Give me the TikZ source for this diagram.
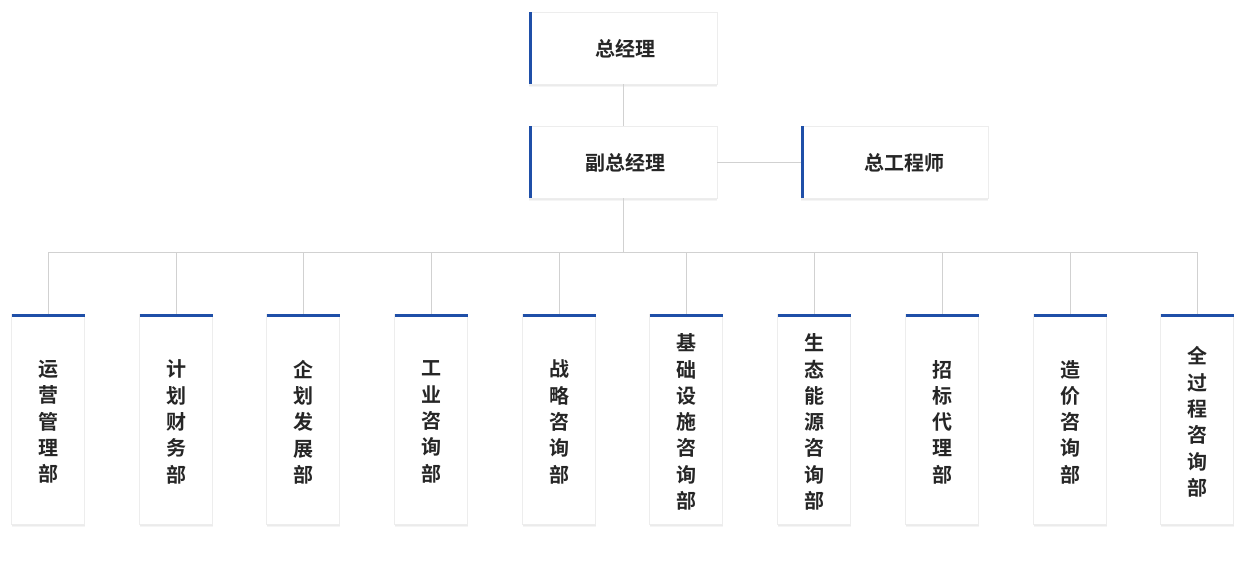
\documentclass[tikz,border=0pt]{standalone}
\usepackage{fontspec}
\newfontfamily\cjk{Noto Sans CJK SC Bold}
\usetikzlibrary{shadows}
\begin{document}
\begin{tikzpicture}[x=1pt,y=-1pt,
  box/.style={fill=white,draw=black!7,line width=0.6pt,
    preaction={fill=black,opacity=0.04,transform canvas={yshift=-3pt}},
    preaction={fill=black,opacity=0.04,transform canvas={yshift=-1.5pt}}},
  line/.style={draw=black!18,line width=0.8pt},
  ttl/.style={font=\cjk\fontsize{20}{22}\selectfont,text=black!85},
  vtl/.style={font=\cjk\fontsize{20}{26.3}\selectfont,text=black!85,align=center,anchor=center}]
\definecolor{bl}{HTML}{1F4FA8}
\useasboundingbox (0,0) rectangle (1247,560);
\path[box] (529,12) rectangle (717,84);
\fill[bl] (529,12) rectangle (532,84);
\node[ttl] (gm) at (625,49) {总经理};
\path[box] (529,126) rectangle (717,198);
\fill[bl] (529,126) rectangle (532,198);
\node[ttl] (dgm) at (625,163) {副总经理};
\path[box] (801,126) rectangle (988,198);
\fill[bl] (801,126) rectangle (804,198);
\node[ttl] (ce) at (904,163) {总工程师};
\coordinate (t1) at (623,84);
\coordinate (t2) at (623,126);
\coordinate (t3) at (623,198);
\coordinate (h) at (623,252);
\draw[line] (t1) -- (t2);
\draw[line] (t3) -- (h);
\draw[line] (717,162) -- (801,162);
\draw[line] (48,252) -- (1197,252);
\foreach \x/\t [count=\i] in {48/运\\营\\管\\理\\部,176/计\\划\\财\\务\\部,303/企\\划\\发\\展\\部,431/工\\业\\咨\\询\\部,559/战\\略\\咨\\询\\部,686/基\\础\\设\\施\\咨\\询\\部,814/生\\态\\能\\源\\咨\\询\\部,942/招\\标\\代\\理\\部,1070/造\\价\\咨\\询\\部,1197/全\\过\\程\\咨\\询\\部}{
  \coordinate (c\i) at (\x,252);
  \coordinate (d\i) at (\x,314);
  \draw[line] (c\i) -- (d\i);
  \path[box] (\x-36.5,314) rectangle (\x+36.5,524);
  \fill[bl] (\x-36.5,314) rectangle (\x+36.5,317);
  \node[vtl] (n\i) at (\x,422) {\t};
}
\end{tikzpicture}
\end{document}
